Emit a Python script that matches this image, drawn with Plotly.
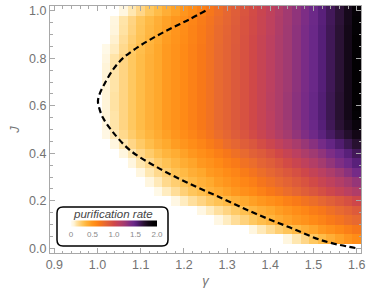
import plotly.graph_objects as go

# ---- data ----
gamma_values = [0.90, 0.92, 0.94, 0.96, 0.98, 1.00, 1.02, 1.04, 1.06, 1.08, 1.10, 1.12,
                1.14, 1.16, 1.18, 1.20, 1.22, 1.24, 1.26, 1.28, 1.30, 1.32, 1.34, 1.36,
                1.38, 1.40, 1.42, 1.44, 1.46, 1.48, 1.50, 1.52, 1.54, 1.56, 1.58, 1.60]
J_values = [0.00, 0.04, 0.08, 0.12, 0.16, 0.20, 0.24, 0.28, 0.32, 0.36, 0.40, 0.44, 0.48,
            0.52, 0.56, 0.60, 0.64, 0.68, 0.72, 0.76, 0.80, 0.84, 0.88, 0.92, 0.96, 1.00]

N = None
rate = [
    [N] * 36,                                                                       # J=0.00
    [N] * 27 + [0.05, 0.12, 0.19, 0.26, 0.32, 0.38, 0.44, 0.50, 0.56],               # J=0.04
    [N] * 23 + [0.05, 0.11, 0.17, 0.23, 0.28, 0.33, 0.38, 0.43, 0.48, 0.53, 0.58, 0.63, 0.68],
    [N] * 19 + [0.04, 0.10, 0.16, 0.21, 0.26, 0.31, 0.35, 0.40, 0.44, 0.48, 0.52, 0.57, 0.61,
                0.66, 0.70, 0.75, 0.79],
    [N] * 17 + [0.04, 0.10, 0.15, 0.20, 0.25, 0.30, 0.34, 0.38, 0.42, 0.46, 0.50, 0.55, 0.59,
                0.64, 0.68, 0.73, 0.78, 0.83, 0.88],
    [N] * 14 + [0.04, 0.10, 0.15, 0.20, 0.25, 0.29, 0.33, 0.37, 0.41, 0.45, 0.49, 0.53, 0.57,
                0.62, 0.66, 0.71, 0.75, 0.80, 0.85, 0.90, 0.95, 1.01],
    [N] * 12 + [0.03, 0.10, 0.16, 0.22, 0.27, 0.31, 0.36, 0.40, 0.44, 0.49, 0.53, 0.57, 0.62,
                0.67, 0.71, 0.76, 0.81, 0.86, 0.91, 0.96, 1.02, 1.07, 1.13, 1.18],
    [N] * 11 + [0.05, 0.11, 0.18, 0.23, 0.28, 0.33, 0.37, 0.41, 0.46, 0.50, 0.55, 0.59, 0.63,
                0.69, 0.73, 0.78, 0.83, 0.88, 0.93, 0.99, 1.05, 1.10, 1.16, 1.22, 1.29],
    [N] * 10 + [0.05, 0.12, 0.18, 0.23, 0.29, 0.33, 0.38, 0.42, 0.47, 0.51, 0.56, 0.60, 0.65,
                0.70, 0.75, 0.80, 0.85, 0.90, 0.95, 1.01, 1.07, 1.13, 1.19, 1.26, 1.33, 1.41],
    [N] * 9 + [0.05, 0.12, 0.18, 0.24, 0.29, 0.34, 0.39, 0.43, 0.48, 0.52, 0.57, 0.62, 0.66,
               0.72, 0.76, 0.82, 0.86, 0.92, 0.98, 1.04, 1.10, 1.16, 1.23, 1.30, 1.37, 1.44, 1.52],
    [N] * 8 + [0.05, 0.12, 0.19, 0.24, 0.30, 0.35, 0.39, 0.44, 0.49, 0.54, 0.58, 0.63, 0.68,
               0.73, 0.78, 0.84, 0.88, 0.94, 1.00, 1.06, 1.12, 1.19, 1.25, 1.31, 1.38, 1.45,
               1.52, 1.60],
    [N] * 7 + [0.05, 0.12, 0.19, 0.25, 0.31, 0.36, 0.41, 0.46, 0.50, 0.55, 0.60, 0.65, 0.70,
               0.76, 0.81, 0.86, 0.91, 0.97, 1.03, 1.09, 1.15, 1.21, 1.28, 1.34, 1.41, 1.48,
               1.55, 1.62, 1.70],
    [N] * 6 + [0.04, 0.11, 0.18, 0.24, 0.30, 0.35, 0.40, 0.45, 0.50, 0.55, 0.60, 0.65, 0.70,
               0.76, 0.81, 0.87, 0.92, 0.98, 1.04, 1.10, 1.17, 1.23, 1.30, 1.37, 1.44, 1.51,
               1.58, 1.65, 1.72, 1.80],
    [N] * 6 + [0.05, 0.13, 0.20, 0.26, 0.32, 0.37, 0.42, 0.47, 0.52, 0.57, 0.62, 0.67, 0.72,
               0.78, 0.83, 0.89, 0.94, 1.00, 1.06, 1.12, 1.19, 1.25, 1.32, 1.39, 1.46, 1.53,
               1.61, 1.69, 1.77, 1.86],
    [N] * 6 + [0.07, 0.13, 0.20, 0.26, 0.32, 0.37, 0.42, 0.47, 0.52, 0.57, 0.62, 0.67, 0.72,
               0.78, 0.83, 0.89, 0.94, 1.00, 1.06, 1.12, 1.19, 1.26, 1.33, 1.40, 1.47, 1.54,
               1.62, 1.70, 1.79, 1.90],
    [N] * 6 + [0.07, 0.14, 0.20, 0.26, 0.32, 0.37, 0.42, 0.47, 0.52, 0.57, 0.62, 0.67, 0.72,
               0.78, 0.83, 0.89, 0.94, 1.00, 1.06, 1.13, 1.19, 1.26, 1.33, 1.40, 1.47, 1.54,
               1.62, 1.70, 1.79, 1.91],
    [N] * 6 + [0.07, 0.14, 0.20, 0.26, 0.32, 0.37, 0.42, 0.47, 0.52, 0.57, 0.62, 0.67, 0.72,
               0.78, 0.83, 0.89, 0.94, 1.00, 1.06, 1.13, 1.19, 1.26, 1.33, 1.40, 1.47, 1.54,
               1.62, 1.70, 1.79, 1.91],
    [N] * 6 + [0.07, 0.13, 0.20, 0.26, 0.32, 0.37, 0.42, 0.47, 0.52, 0.57, 0.62, 0.67, 0.72,
               0.78, 0.83, 0.89, 0.94, 1.00, 1.06, 1.12, 1.19, 1.25, 1.32, 1.39, 1.46, 1.53,
               1.61, 1.69, 1.79, 1.91],
    [N] * 6 + [0.07, 0.13, 0.20, 0.26, 0.32, 0.37, 0.42, 0.47, 0.52, 0.57, 0.62, 0.67, 0.72,
               0.78, 0.83, 0.89, 0.94, 1.00, 1.06, 1.12, 1.19, 1.25, 1.32, 1.39, 1.46, 1.53,
               1.61, 1.69, 1.79, 1.91],
    [N] * 6 + [0.07, 0.13, 0.20, 0.26, 0.32, 0.37, 0.42, 0.47, 0.52, 0.57, 0.62, 0.67, 0.72,
               0.78, 0.83, 0.89, 0.94, 1.00, 1.06, 1.12, 1.19, 1.25, 1.32, 1.39, 1.46, 1.53,
               1.61, 1.69, 1.79, 1.91],
    [N] * 6 + [0.05, 0.13, 0.20, 0.26, 0.32, 0.37, 0.42, 0.47, 0.52, 0.57, 0.62, 0.67, 0.72,
               0.78, 0.83, 0.89, 0.94, 1.00, 1.06, 1.12, 1.19, 1.25, 1.32, 1.39, 1.46, 1.53,
               1.61, 1.69, 1.79, 1.91],
    [N] * 6 + [0.03, 0.10, 0.18, 0.25, 0.31, 0.36, 0.42, 0.47, 0.52, 0.57, 0.62, 0.67, 0.72,
               0.78, 0.83, 0.89, 0.94, 1.00, 1.06, 1.12, 1.19, 1.25, 1.32, 1.39, 1.46, 1.53,
               1.61, 1.69, 1.79, 1.91],
    [N] * 7 + [0.08, 0.16, 0.23, 0.29, 0.35, 0.40, 0.46, 0.51, 0.56, 0.61, 0.66, 0.72, 0.77,
               0.83, 0.88, 0.94, 1.00, 1.06, 1.12, 1.19, 1.25, 1.32, 1.39, 1.46, 1.53, 1.61,
               1.69, 1.79, 1.91],
    [N] * 7 + [0.06, 0.14, 0.21, 0.28, 0.34, 0.39, 0.45, 0.50, 0.55, 0.61, 0.66, 0.71, 0.77,
               0.82, 0.88, 0.93, 0.99, 1.05, 1.11, 1.18, 1.25, 1.32, 1.39, 1.46, 1.53, 1.61,
               1.69, 1.79, 1.90],
    [N] * 7 + [0.05, 0.13, 0.20, 0.27, 0.33, 0.38, 0.44, 0.49, 0.54, 0.60, 0.65, 0.70, 0.76,
               0.81, 0.87, 0.93, 0.99, 1.05, 1.11, 1.18, 1.24, 1.31, 1.38, 1.45, 1.52, 1.60,
               1.68, 1.78, 1.90],
    [N] * 8 + [0.05, 0.12, 0.19, 0.26, 0.32, 0.38, 0.44, 0.50, 0.56, 0.62, 0.68, 0.74, 0.80,
               0.86, 0.92, 0.98, 1.04, 1.10, 1.17, 1.24, 1.31, 1.38, 1.45, 1.52, 1.60, 1.68,
               1.78, 1.89],
]

# dashed boundary curve (gamma, J)
curve_gamma = [1.250, 1.214, 1.175, 1.137, 1.098, 1.060, 1.037, 1.017, 1.005, 1.001, 1.004,
               1.013, 1.033, 1.075, 1.137, 1.207, 1.291, 1.368, 1.446, 1.523, 1.600]
curve_J = [1.000, 0.965, 0.930, 0.894, 0.852, 0.802, 0.755, 0.695, 0.650, 0.620, 0.590,
           0.548, 0.495, 0.413, 0.342, 0.277, 0.208, 0.144, 0.087, 0.031, 0.000]

cbar_ticks = [0, 0.5, 1.0, 1.5, 2.0]
cbar_ticktext = ["0", "0.5", "1.0", "1.5", "2.0"]

colorscale = [
    [0.000, "#fffcf2"], [0.035, "#fff4d8"], [0.065, "#ffe4a8"], [0.100, "#ffd482"],
    [0.130, "#ffc860"], [0.160, "#ffbc48"], [0.185, "#ffb038"], [0.210, "#ffa82c"],
    [0.235, "#ff9a20"], [0.285, "#ff8a16"], [0.335, "#f87818"], [0.390, "#e86a30"],
    [0.445, "#dc5a3c"], [0.500, "#d04848"], [0.560, "#bc4060"], [0.625, "#a03a72"],
    [0.695, "#7a2c86"], [0.730, "#6a2888"], [0.765, "#561f78"], [0.845, "#2a1234"],
    [0.895, "#140818"], [0.955, "#030103"], [1.000, "#000000"],
]

# ---- layout geometry (pixels) ----
W, H = 374, 299
ML, MR, MT, MB = 50, 13, 6, 46
PW, PH = W - ML - MR, H - MT - MB


def px_x(x):
    return (x - ML) / PW


def px_y(y):
    return (H - MB - y) / PH


fig = go.Figure()

fig.add_trace(go.Heatmap(
    x=gamma_values, y=J_values, z=rate,
    zmin=0, zmax=2, colorscale=colorscale,
    hoverongaps=False,
    colorbar=dict(
        orientation="h",
        x=px_x(114), xanchor="center",
        y=px_y(228), yanchor="middle",
        len=86, lenmode="pixels",
        thickness=6, thicknessmode="pixels",
        outlinewidth=0, xpad=0, ypad=0,
        tickvals=cbar_ticks, ticktext=cbar_ticktext,
        ticks="", tickfont=dict(size=8, color="#8a8a8a", family="Liberation Sans"),
        bgcolor="rgba(0,0,0,0)",
    ),
))

fig.add_trace(go.Scatter(
    x=curve_gamma, y=curve_J, mode="lines",
    line=dict(color="black", width=2.2, dash="6px,3.5px", shape="spline"),
    hoverinfo="skip", showlegend=False,
))

# rounded legend box
x0, x1 = px_x(57), px_x(168)
y0, y1 = px_y(207), px_y(246)
rx, ry = 6 / PW, 6 / PH
path = (f"M {x0+rx},{y0} L {x1-rx},{y0} Q {x1},{y0} {x1},{y0-ry} "
        f"L {x1},{y1+ry} Q {x1},{y1} {x1-rx},{y1} L {x0+rx},{y1} "
        f"Q {x0},{y1} {x0},{y1+ry} L {x0},{y0-ry} Q {x0},{y0} {x0+rx},{y0} Z")
fig.add_shape(type="path", path=path, xref="paper", yref="paper",
              line=dict(color="black", width=1.5), fillcolor="white", layer="above")

fig.add_annotation(text="purification rate", x=px_x(113), y=px_y(214),
                   xref="paper", yref="paper", showarrow=False,
                   xanchor="center", yanchor="middle",
                   font=dict(size=11.5, color="#444444", style="italic",
                             family="Liberation Sans"))

axis_common = dict(
    showline=True, linecolor="#a8a8a8", linewidth=1, mirror="ticks",
    ticks="inside", ticklen=5, tickwidth=1, tickcolor="#a8a8a8",
    showgrid=False, zeroline=False, tickformat=".1f", automargin=False,
    tickfont=dict(size=12.5, color="#737373", family="Liberation Sans"),
)

fig.update_xaxes(range=[0.89, 1.61], tick0=0.9, dtick=0.1,
                 minor=dict(dtick=0.02, ticks="inside", ticklen=2.5, tickcolor="#a8a8a8",
                            showgrid=False),
                 title=dict(text="γ", standoff=4,
                            font=dict(size=13, color="#737373", style="italic",
                                      family="Liberation Sans")),
                 **axis_common)
fig.update_yaxes(range=[-0.02, 1.02], tick0=0, dtick=0.2,
                 minor=dict(dtick=0.05, ticks="inside", ticklen=2.5, tickcolor="#a8a8a8",
                            showgrid=False),
                 title=dict(text="J", standoff=6,
                            font=dict(size=13, color="#737373", style="italic",
                                      family="Liberation Sans")),
                 **axis_common)

fig.update_layout(
    width=W, height=H,
    margin=dict(l=ML, r=MR, t=MT, b=MB, pad=0, autoexpand=False),
    plot_bgcolor="white", paper_bgcolor="white",
    showlegend=False,
)

fig.write_html("out.html", config={"displayModeBar": False},
               post_script="document.body.style.margin='0px';")
